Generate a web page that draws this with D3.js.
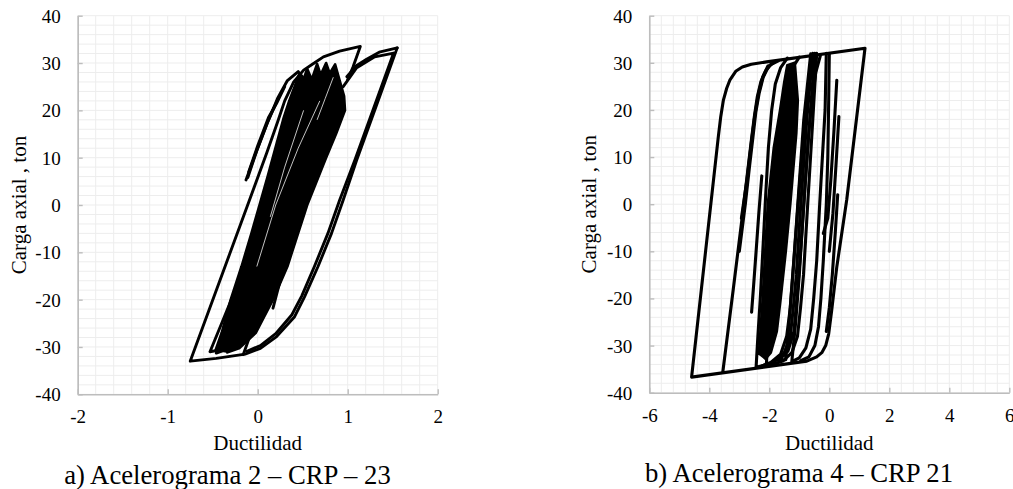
<!DOCTYPE html>
<html>
<head>
<meta charset="utf-8">
<script src="https://cdn.jsdelivr.net/npm/d3@7"></script>
<style>
  html, body { margin: 0; padding: 0; background: #fff; }
  svg text { font-family: "Liberation Serif", "Times New Roman", Times, serif; fill: #000; }
</style>
</head>
<body>
<svg id="fig" width="1013" height="489"></svg>
<script>
// ---- Axis ticks ----
const yTicks = [-40, -30, -20, -10, 0, 10, 20, 30, 40];
const xTicksA = [-2, -1, 0, 1, 2];
const xTicksB = [-6, -4, -2, 0, 2, 4, 6];

// ---- Panel a) Acelerograma 2 – CRP – 23 : hysteresis branches [ductility, load] ----
const aEnvelope = [
  [1.55, 33.2], [1.3, 20.0], [1.1, 9.5], [0.95, 1.06], [0.82, -6.0], [0.67, -13.0], [0.52, -19.4],
  [0.41, -23.6], [0.21, -27.8], [0.03, -30.3], [-0.14, -31.5], [-0.46, -32.4], [-0.75, -33.0],
  [-0.09, 1.1], [0.10, 11.0], [0.22, 17.5], [0.30, 22.0], [0.40, 26.0], [0.51, 28.5], [0.62, 29.9],
  [0.73, 31.3], [0.91, 32.5], [1.14, 33.5], [1.06, 29.2], [1.0, 26.5]
];
const aRightLoop = [
  [0.95, 25.0], [1.1, 29.0], [1.3, 31.3], [1.51, 32.1], [1.28, 20.0], [1.08, 9.5], [0.91, 1.0],
  [0.78, -6.0], [0.63, -13.0], [0.49, -19.2], [0.38, -23.2], [0.20, -27.2], [0.03, -29.7], [-0.12, -30.9]
];
const aRightTop = [[0.99, 27.1], [1.1, 29.5], [1.21, 30.8], [1.35, 32.3], [1.55, 33.2]];
const aLeftSpike = [
  [-0.13, 5.3], [-0.02, 11.0], [0.10, 17.0], [0.22, 22.5], [0.33, 26.3], [0.45, 28.2], [0.50, 27.0], [0.55, 25.5]
];
const aLeftSpike2 = [[-0.10, 7.0], [0.0, 12.5], [0.12, 18.5], [0.21, 21.5], [0.3, 25.0]];
const aLeftSpike3 = [[-0.11, 5.8], [-0.01, 11.5], [0.11, 17.5], [0.23, 22.6]];
const aCornerRise = [[-0.16, -31.6], [-0.07, -26.8], [0.02, -22.0], [0.10, -17.0]];
const aTipOne = [[0.20, 6.0], [0.05, -2.0], [-0.09, -9.5], [-0.25, -18.0], [-0.4, -25.0], [-0.53, -31.0],
  [-0.38, -30.5], [-0.25, -29.6], [-0.12, -28.3]];
const aTipTwo = [[-0.2, -20.0], [-0.33, -26.0], [-0.46, -31.3], [-0.3, -30.2], [-0.15, -28.8]];
const aShortStroke = [[0.17, -21.8], [0.25, -16.0], [0.33, -10.5], [0.42, -5.0]];
const aCore = [
  [-0.47, -30.8], [-0.40, -27.0], [-0.30, -20.0], [-0.18, -13.0], [-0.07, -6.0], [0.02, 0.0],
  [0.11, 6.0], [0.21, 13.0], [0.29, 18.5], [0.35, 22.0], [0.41, 25.0], [0.46, 27.6], [0.50, 26.0],
  [0.55, 28.8], [0.60, 26.5], [0.66, 29.8], [0.70, 27.5], [0.76, 30.0], [0.80, 27.8], [0.86, 29.7],
  [0.90, 27.0], [0.96, 23.0], [0.97, 20.0], [0.87, 15.0], [0.76, 10.0], [0.55, 0.0], [0.33, -13.0],
  [0.17, -20.0], [-0.02, -27.0], [-0.2, -30.2], [-0.35, -31.2]
];
// light gaps left between neighbouring cycles inside the dense core
const aCoreGapOne = [[-0.01, -13.0], [0.2, 0.0], [0.45, 12.0], [0.69, 22.0]];
const aCoreGapTwo = [[0.14, -2.5], [0.3, 8.0], [0.51, 20.0]];
const aCoreGapThree = [[0.66, 18.0], [0.75, 22.5], [0.84, 27.0]];
const aBranches = [aEnvelope, aRightLoop, aRightTop, aLeftSpike, aLeftSpike2, aLeftSpike3,
  aCornerRise, aTipOne, aTipTwo, aShortStroke];
const aGaps = [aCoreGapOne, aCoreGapTwo, aCoreGapThree];

// ---- Panel b) Acelerograma 4 – CRP 21 ----
const bEnvelope = [
  [1.19, 33.1], [0.58, 0.9], [0.25, -13.3], [0.08, -22.5], [-0.02, -27.5], [-0.12, -30.0], [-0.25, -31.5],
  [-0.42, -32.4], [-0.75, -33.3], [-4.59, -36.7], [-3.70, 14.3], [-3.62, 18.5], [-3.53, 22.1],
  [-3.42, 24.6], [-3.31, 26.4], [-3.12, 28.2], [-2.90, 29.1], [-2.60, 29.7], [-2.09, 30.2], [1.19, 33.1]
];
const bBandOne = [
  [-3.55, -35.6], [-3.2, -18.0], [-2.87, -1.0], [-2.72, 7.0], [-2.60, 13.5], [-2.50, 18.5], [-2.40, 22.8],
  [-2.28, 26.0], [-2.12, 28.3], [-1.95, 29.6], [-1.70, 30.4]
];
const bBandOneB = [
  [-3.0, -10.0], [-2.80, 0.0], [-2.66, 8.0], [-2.55, 14.0], [-2.45, 19.5], [-2.34, 23.5], [-2.20, 27.0],
  [-2.02, 29.3], [-1.80, 30.3]
];
const bBandOneC = [[-2.93, -3.0], [-2.75, 5.0], [-2.60, 13.0], [-2.48, 19.0], [-2.36, 23.5], [-2.22, 27.0], [-2.05, 29.3]];
const bStroke = [[-2.59, -22.9], [-2.52, -17.0], [-2.44, -10.0], [-2.35, -2.0], [-2.25, 6.0]];
const bLoopOne = [
  [-0.55, 32.0], [-0.75, 18.0], [-0.95, 0.0], [-1.10, -15.0], [-1.20, -22.0], [-1.30, -28.0], [-1.50, -31.5],
  [-1.80, -33.3], [-2.10, -34.1], [-2.44, -34.6], [-2.38, -28.0], [-2.30, -20.0], [-2.20, -8.0],
  [-2.12, 2.0], [-2.03, 12.0], [-1.92, 20.0], [-1.80, 25.5], [-1.62, 29.0], [-1.40, 31.0]
];
const bLoopTwo = [
  [-0.42, 32.0], [-0.55, 18.0], [-0.72, 0.0], [-0.86, -15.0], [-0.96, -22.0], [-1.06, -28.0], [-1.25, -31.5],
  [-1.55, -33.3], [-1.85, -33.9], [-2.10, -34.2], [-2.04, -28.0], [-1.96, -20.0], [-1.86, -10.0],
  [-1.76, 0.0], [-1.64, 10.0], [-1.50, 19.0], [-1.38, 25.0], [-1.22, 29.0], [-1.0, 31.2]
];
const bLoopThree = [
  [-0.62, 31.9], [-0.85, 18.0], [-1.05, 0.0], [-1.18, -12.0], [-1.30, -22.0], [-1.42, -28.0], [-1.62, -31.8],
  [-1.95, -33.6], [-2.25, -34.3]
];
const bLoopFour = [
  [-0.48, 32.0], [-0.65, 18.0], [-0.85, 0.0], [-0.98, -12.0], [-1.08, -20.0], [-1.18, -27.0], [-1.38, -31.2],
  [-1.70, -33.2], [-1.45, -33.0], [-1.35, -26.0], [-1.22, -15.0], [-1.10, -5.0], [-0.98, 5.0],
  [-0.86, 14.0], [-0.74, 22.0], [-0.64, 27.5], [-0.52, 31.5]
];
const bLoopFive = [
  [-0.10, 32.0], [-0.14, 20.0], [-0.32, 0.0], [-0.42, -12.0], [-0.52, -20.0], [-0.62, -26.5], [-0.78, -30.5],
  [-1.00, -32.6], [-1.25, -33.4], [-1.12, -25.0], [-1.0, -15.0], [-0.9, -5.0], [-0.8, 5.0],
  [-0.7, 14.0], [-0.58, 22.0], [-0.45, 28.0], [-0.30, 31.5]
];
const bLoopSix = [
  [0.0, 31.9], [-0.02, 22.0], [-0.05, 10.0], [-0.10, 0.0], [-0.20, -12.0], [-0.28, -20.0], [-0.36, -26.0],
  [-0.48, -30.0], [-0.68, -32.4], [-0.95, -33.2]
];
const bSpikeOne = [[0.25, 26.3], [0.15, 15.0], [0.05, 5.0], [-0.05, -3.0], [-0.20, -6.2]];
const bSpikeTwo = [[0.32, 18.6], [0.22, 8.0], [0.12, -2.0], [0.0, -10.0]];
const bSpikeThree = [[0.28, 2.0], [0.20, -6.0], [0.10, -15.0], [0.0, -22.0], [-0.10, -27.0]];
const bCore = [
  [-2.35, -32.0], [-2.22, -20.0], [-2.12, -8.0], [-2.05, 0.0], [-1.85, 12.0], [-1.64, 20.0], [-1.50, 26.0],
  [-1.40, 29.5], [-1.15, 30.0], [-1.05, 22.0], [-1.10, 15.0], [-1.30, 0.0], [-1.45, -10.0], [-1.62, -20.0],
  [-1.75, -27.0], [-1.95, -31.5], [-2.15, -33.0]
];
const bBranches = [bEnvelope, bBandOne, bBandOneB, bBandOneC, bStroke, bLoopOne, bLoopTwo, bLoopThree,
  bLoopFour, bLoopFive, bLoopSix, bSpikeOne, bSpikeTwo, bSpikeThree];

const svg = d3.select("#fig");

function drawPanel(cfg) {
  const x = d3.scaleLinear().domain(cfg.xDomain).range(cfg.xRange);
  const y = d3.scaleLinear().domain([-40, 40]).range(cfg.yRange);
  const g = svg.append("g");

  // minor grid
  const grid = g.append("g").attr("stroke", "#ededed").attr("stroke-width", 1);
  d3.range(cfg.xDomain[0], cfg.xDomain[1] + cfg.xMinor / 2, cfg.xMinor).forEach(v => {
    grid.append("line").attr("x1", x(v)).attr("x2", x(v)).attr("y1", y(-40)).attr("y2", y(40));
  });
  d3.range(-40, 41, 2).forEach(v => {
    grid.append("line").attr("x1", x(cfg.xDomain[0])).attr("x2", x(cfg.xDomain[1])).attr("y1", y(v)).attr("y2", y(v));
  });

  // axes with inward ticks, labels use a plain hyphen for negatives
  const fmt = d => String(d);
  const xAxis = g.append("g").attr("transform", `translate(0,${y(-40)})`)
    .call(d3.axisBottom(x).tickValues(cfg.xTicks).tickFormat(fmt).tickSizeInner(-5).tickSizeOuter(0).tickPadding(15.5));
  const yAxis = g.append("g").attr("transform", `translate(${x(cfg.xDomain[0])},0)`)
    .call(d3.axisLeft(y).tickValues(yTicks).tickFormat(fmt).tickSizeInner(-5).tickSizeOuter(0).tickPadding(17));
  [xAxis, yAxis].forEach(a => {
    a.attr("font-family", null);
    a.select(".domain").attr("stroke", "#bdbdbd").attr("stroke-width", 1.6);
    a.selectAll(".tick line").attr("stroke", "#bdbdbd").attr("stroke-width", 1.4);
    a.selectAll(".tick text").attr("font-size", 19).attr("fill", "#000");
  });
  yAxis.selectAll(".tick text").attr("dy", "0.34em");

  // hysteresis curves
  const line = d3.line().x(d => x(d[0])).y(d => y(d[1])).curve(d3.curveLinear);
  g.append("path").datum(cfg.core).attr("d", line).attr("fill", "#000")
    .attr("stroke", "#000").attr("stroke-width", 2.6).attr("stroke-linejoin", "round");
  g.selectAll("path.gap").data(cfg.gaps).join("path").attr("class", "gap")
    .attr("d", line).attr("fill", "none").attr("stroke", "#fff").attr("stroke-width", 0.9)
    .attr("stroke-opacity", 0.85);
  g.selectAll("path.branch").data(cfg.branches).join("path").attr("class", "branch")
    .attr("d", line).attr("fill", "none").attr("stroke", "#000").attr("stroke-width", cfg.lineWidth)
    .attr("stroke-linejoin", "round").attr("stroke-linecap", "round");

  // titles
  const cx = (cfg.xRange[0] + cfg.xRange[1]) / 2;
  g.append("text").attr("x", cx).attr("y", 450).attr("text-anchor", "middle").attr("font-size", 21).text("Ductilidad");
  g.append("text").attr("transform", `translate(${cfg.yTitleX},${(cfg.yRange[0] + cfg.yRange[1]) / 2}) rotate(-90)`)
    .attr("text-anchor", "middle").attr("font-size", 21).text("Carga axial , ton");
  g.append("text").attr("x", cfg.captionX).attr("y", cfg.captionY).attr("text-anchor", "middle")
    .attr("font-size", 26.7).text(cfg.caption);
}

drawPanel({
  xDomain: [-2, 2], xRange: [77.7, 437.7], yRange: [394.3, 15.7], xMinor: 0.2, xTicks: xTicksA,
  core: aCore, gaps: aGaps, branches: aBranches, lineWidth: 2.9, yTitleX: 26, captionX: 227.5, captionY: 484,
  caption: "a) Acelerograma 2 – CRP – 23"
});
drawPanel({
  xDomain: [-6, 6], xRange: [649.3, 1009.3], yRange: [392.7, 15.7], xMinor: 0.4, xTicks: xTicksB,
  core: bCore, gaps: [], branches: bBranches, lineWidth: 3.1, yTitleX: 596, captionX: 799, captionY: 482,
  caption: "b) Acelerograma 4 – CRP 21"
});
</script>
</body>
</html>
